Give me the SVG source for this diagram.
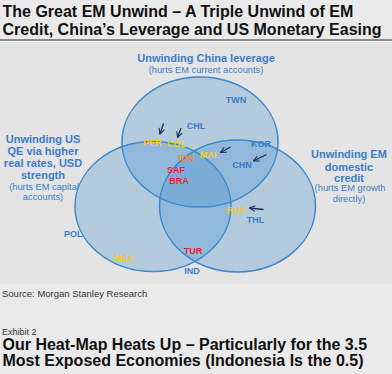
<svg xmlns="http://www.w3.org/2000/svg" width="392" height="374" viewBox="0 0 392 374">
<defs>
<style>
.title{font-family:"Liberation Sans",Arial,sans-serif;font-weight:bold;font-size:16px;fill:#111}
.setl{font-family:"Liberation Sans",Arial,sans-serif;font-weight:bold;font-size:11px;fill:#3d7cc9;text-anchor:middle}
.sets{font-family:"Liberation Sans",Arial,sans-serif;font-size:9.3px;fill:#3d7cc9;text-anchor:middle}
.c{font-family:"Liberation Sans",Arial,sans-serif;font-weight:bold;font-size:9px;text-anchor:middle}
.b{fill:#3d7cc9}.y{fill:#f5cc14}.o{fill:#ee8a3a}.r{fill:#e8262a}
.fill{fill:#4792cf;fill-opacity:0.3;stroke:none}
.edge{fill:none;stroke:#3a8ad0;stroke-width:1.5}
.arr{stroke:#1f2d5a;stroke-width:1.3;fill:none;marker-end:url(#ah)}
.small{font-family:"Liberation Sans",Arial,sans-serif;font-size:9.5px;fill:#333}
</style>
<marker id="ah" viewBox="0 0 10 10" refX="9" refY="5" markerWidth="7" markerHeight="7" markerUnits="userSpaceOnUse" orient="auto">
<path d="M1,1 L9,5 L1,9" fill="none" stroke="#1f2d5a" stroke-width="1.6"/>
</marker>
</defs>
<rect x="0" y="0" width="392" height="374" fill="#eaeaea"/>
<rect x="0" y="42" width="392" height="242" fill="#e4e4e4"/>
<text class="title" x="2.5" y="17.3">The Great EM Unwind – A Triple Unwind of EM</text>
<text class="title" x="2.5" y="34.5">Credit, China’s Leverage and US Monetary Easing</text>
<line x1="0" y1="40" x2="392" y2="40" stroke="#6e6e6e" stroke-width="1.6"/>
<line x1="0" y1="41.8" x2="392" y2="41.8" stroke="#f4f4f4" stroke-width="1"/>

<g id="label-us">
<text class="setl" x="43" y="143">Unwinding US</text>
<text class="setl" x="43" y="155">QE via higher</text>
<text class="setl" x="43" y="167">real rates, USD</text>
<text class="setl" x="43" y="179">strength</text>
<text class="sets" x="44" y="189.5">(hurts  EM capital</text>
<text class="sets" x="43" y="200">accounts)</text>
</g>
<text class="c b" x="73.3" y="236.5">POL</text>

<g id="set-china"><ellipse class="fill" cx="200" cy="142" rx="78" ry="65"/></g>
<g id="set-us"><ellipse class="fill" cx="153" cy="206.5" rx="78" ry="65"/></g>
<g id="set-em"><ellipse class="fill" cx="237.5" cy="206" rx="78" ry="66"/></g>
<g id="outlines">
<ellipse class="edge" cx="200" cy="142" rx="78" ry="65"/>
<ellipse class="edge" cx="153" cy="206.5" rx="78" ry="65"/>
<ellipse class="edge" cx="237.5" cy="206" rx="78" ry="66"/>
</g>

<g id="label-china">
<text class="setl" x="206" y="62">Unwinding China leverage</text>
<text class="sets" x="206" y="73">(hurts  EM  current  accounts)</text>
</g>
<g id="label-em">
<text class="setl" x="349" y="158">Unwinding EM</text>
<text class="setl" x="349" y="170.5">domestic</text>
<text class="setl" x="349" y="181.5">credit</text>
<text class="sets" x="350" y="190.5">(hurts  EM growth</text>
<text class="sets" x="349" y="202">directly)</text>
</g>

<g id="countries">
<text class="c b" x="236" y="102.5">TWN</text>
<text class="c b" x="196" y="128.5">CHL</text>
<text class="c y" x="152.5" y="145.5">PER</text>
<text class="c y" x="176.5" y="146.5">COL</text>
<text class="c o" x="186" y="160.5">IDN</text>
<text class="c y" x="209.5" y="157.5">MAL</text>
<text class="c r" x="176" y="172.5">SAF</text>
<text class="c r" x="179" y="183.5">BRA</text>
<text class="c b" x="261" y="146.5">KOR</text>
<text class="c b" x="242" y="168">CHN</text>
<text class="c y" x="236" y="212.5">RUS</text>
<text class="c b" x="255.5" y="223">THL</text>
<text class="c r" x="193" y="254">TUR</text>
<text class="c b" x="192" y="274">IND</text>
<text class="c y" x="124" y="260.5">MEX</text>
</g>

<g id="connectors">
<line class="arr" x1="163.5" y1="123.5" x2="160" y2="134"/>
<line class="arr" x1="181" y1="128" x2="177.5" y2="137.5"/>
<line class="arr" x1="230.5" y1="147" x2="220.5" y2="152.5"/>
<line class="arr" x1="266.5" y1="154.5" x2="253.5" y2="161"/>
<line class="arr" x1="263.5" y1="209.5" x2="249.5" y2="208"/>
</g>

<text class="small" x="2" y="297">Source: Morgan Stanley Research</text>
<text class="small" x="2" y="335" style="font-size:9px">Exhibit 2</text>
<text class="title" x="2.5" y="349.5">Our Heat-Map Heats Up – Particularly for the 3.5</text>
<text class="title" x="2.5" y="365.5">Most Exposed Economies (Indonesia Is the 0.5)</text>
</svg>
